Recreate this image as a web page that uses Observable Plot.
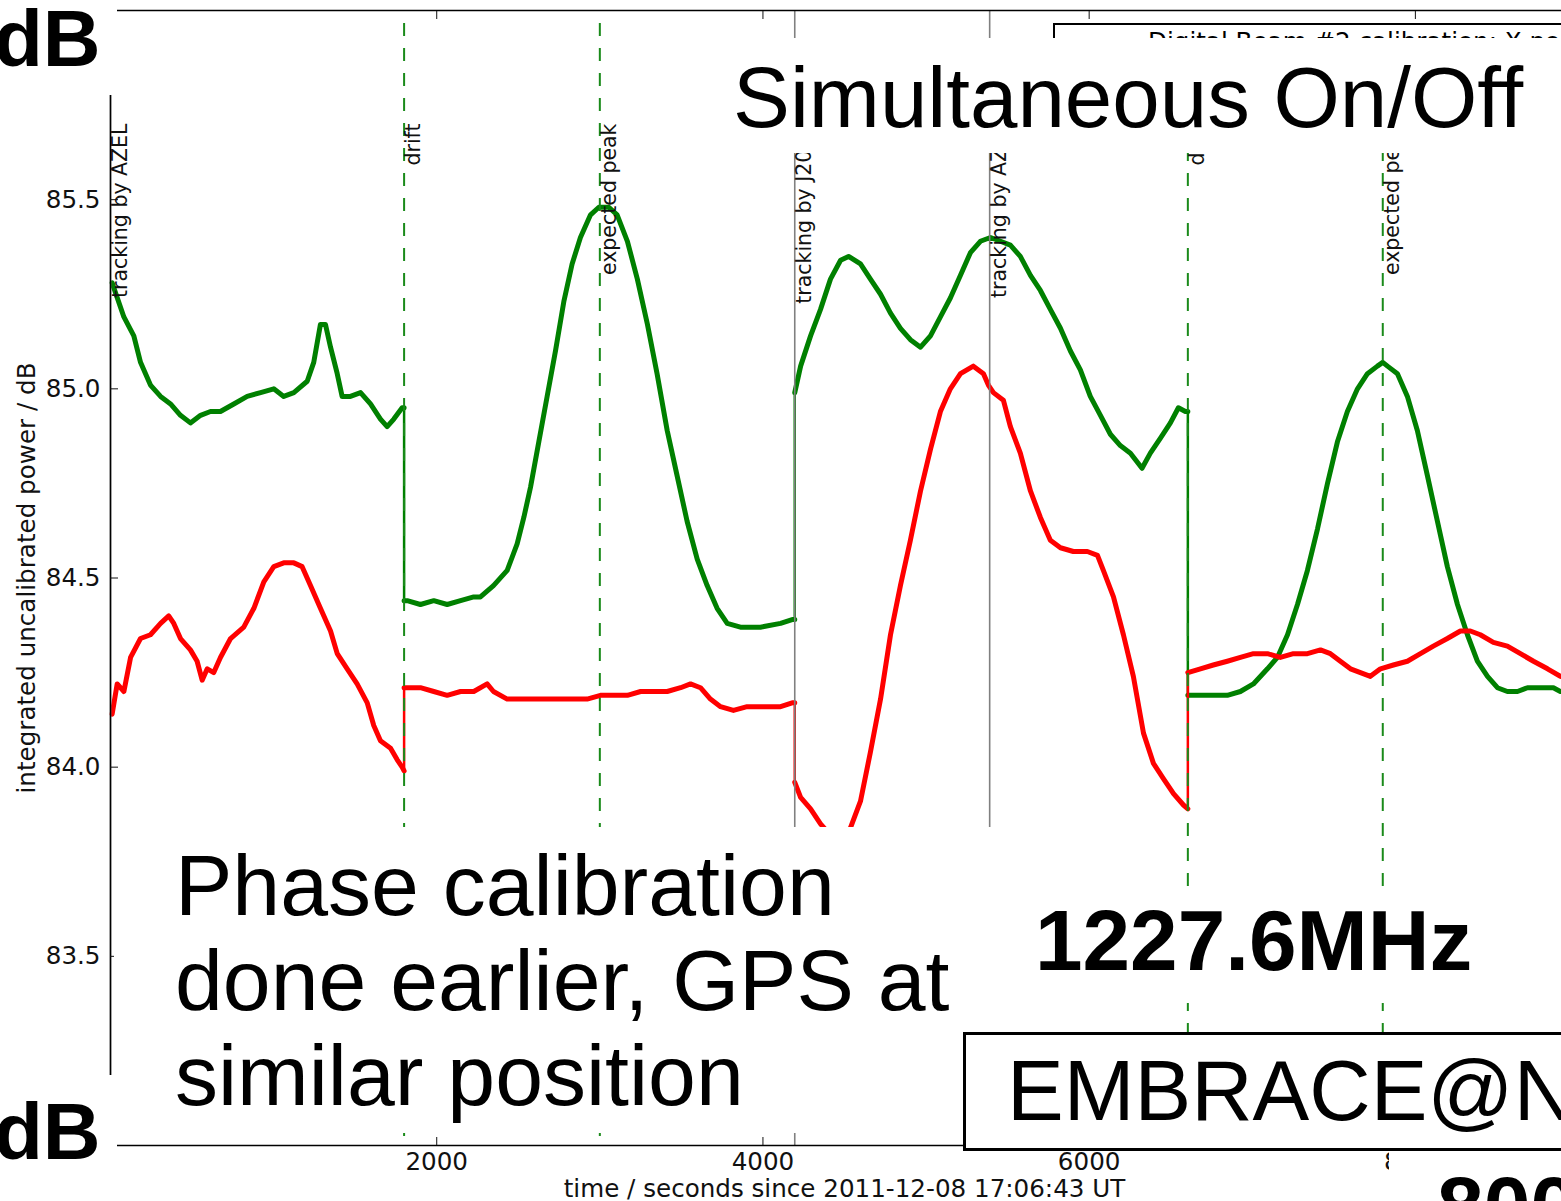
<!DOCTYPE html>
<html><head><meta charset="utf-8">
<script src="https://cdn.jsdelivr.net/npm/d3@7"></script>
<script src="https://cdn.jsdelivr.net/npm/@observablehq/plot@0.6"></script>
<style>
html,body{margin:0;padding:0;background:#fff;}
#stage{position:relative;width:1561px;height:1201px;overflow:hidden;background:#fff;}
#chart{position:absolute;left:0;top:0;width:1578px;height:1201px;}
#chart svg{max-width:none !important;}
.box{position:absolute;background:#fff;box-sizing:content-box;}
.slide{position:absolute;font-family:'Liberation Sans',Arial,sans-serif;color:#000;white-space:nowrap;line-height:1;}
</style></head><body>
<div id="stage">
<div id="chart"></div>
<div class="box" style="left:1053px;top:23px;width:600px;height:80px;border-top:2px solid #000;border-left:2px solid #000;"></div>
<div class="slide" style="left:1148px;top:30px;font-family:'DejaVu Sans',sans-serif;font-size:24.6px;">Digital Beam #2 calibration: X pol</div>
<div class="box" style="left:700px;top:38px;width:900px;height:115px;"></div>
<div class="slide" style="left:733px;top:55px;font-size:85.3px;">Simultaneous On/Off</div>
<div class="box" style="left:114px;top:827px;width:1066px;height:306px;"></div>
<div class="slide" style="left:175px;top:838px;font-size:86px;line-height:95px;">Phase calibration<br>done earlier, GPS at<br>similar position</div>
<div class="box" style="left:1000px;top:893px;width:600px;height:110px;"></div>
<div class="slide" style="left:1035px;top:898px;font-size:85.5px;font-weight:bold;">1227.6MHz</div>
<div class="box" style="left:963px;top:1032px;width:700px;height:113px;border:3px solid #000;"></div>
<div class="slide" style="left:1007px;top:1048px;font-size:85px;">EMBRACE@Nançay</div>
<div class="box" style="left:1389px;top:1152px;width:300px;height:60px;"></div>
<div class="slide" style="left:1437px;top:1164px;font-size:84px;font-weight:bold;">800</div>
<div class="box" style="left:0;top:0;width:117px;height:95px;"></div>
<div class="slide" style="left:-6px;top:-1px;font-size:80px;font-weight:bold;">dB</div>
<div class="box" style="left:0;top:1075px;width:117px;height:126px;"></div>
<div class="slide" style="left:-6px;top:1092px;font-size:80px;font-weight:bold;">dB</div>
</div>
<script>
// ---- data (time in s, power in dB) ----
const green1 = [[10,85.28],[82,85.19],[143,85.14],[184,85.07],[245,85.01],[307,84.98],[368,84.96],[429,84.93],[490,84.91],[552,84.93],[613,84.94],[674,84.94],[756,84.96],[838,84.98],[920,84.99],[1001,85.00],[1062,84.98],[1124,84.99],[1206,85.02],[1246,85.07],[1287,85.17],[1318,85.17],[1349,85.11],[1390,85.04],[1420,84.98],[1471,84.98],[1533,84.99],[1594,84.96],[1655,84.92],[1696,84.90],[1737,84.92],[1788,84.95],[1800,84.95]];
const green2 = [[1800,84.44],[1819,84.44],[1900,84.43],[1982,84.44],[2064,84.43],[2146,84.44],[2227,84.45],[2268,84.45],[2348,84.48],[2432,84.52],[2493,84.59],[2534,84.66],[2575,84.74],[2626,84.86],[2677,84.98],[2728,85.10],[2779,85.23],[2830,85.33],[2881,85.40],[2943,85.46],[2994,85.48],[3055,85.48],[3106,85.46],[3169,85.39],[3230,85.29],[3292,85.17],[3351,85.04],[3413,84.89],[3474,84.77],[3535,84.65],[3597,84.55],[3658,84.48],[3719,84.42],[3781,84.38],[3862,84.37],[3985,84.37],[4108,84.38],[4179,84.39],[4195,84.39]];
const green3 = [[4195,84.99],[4231,85.06],[4292,85.14],[4353,85.21],[4414,85.29],[4476,85.34],[4525,85.35],[4598,85.33],[4659,85.29],[4721,85.25],[4782,85.20],[4843,85.16],[4904,85.13],[4966,85.11],[5027,85.14],[5088,85.19],[5149,85.24],[5211,85.30],[5272,85.36],[5333,85.39],[5395,85.40],[5456,85.39],[5517,85.38],[5578,85.35],[5640,85.30],[5701,85.26],[5762,85.21],[5824,85.16],[5885,85.10],[5946,85.05],[6007,84.98],[6069,84.93],[6130,84.88],[6191,84.85],[6253,84.83],[6324,84.79],[6375,84.83],[6437,84.87],[6498,84.91],[6547,84.95],[6590,84.94],[6605,84.94]];
const green4 = [[6605,84.19],[6682,84.19],[6761,84.19],[6847,84.19],[6927,84.20],[7007,84.22],[7093,84.26],[7154,84.29],[7216,84.35],[7277,84.43],[7338,84.52],[7400,84.63],[7461,84.75],[7522,84.86],[7583,84.94],[7645,85.00],[7706,85.04],[7767,85.06],[7800,85.07],[7829,85.06],[7890,85.04],[7951,84.98],[8012,84.89],[8074,84.77],[8135,84.65],[8196,84.53],[8258,84.43],[8319,84.35],[8380,84.28],[8442,84.24],[8503,84.21],[8564,84.20],[8626,84.20],[8687,84.21],[8767,84.21],[8846,84.21],[8889,84.20]];
const red1 = [[10,84.14],[41,84.22],[82,84.20],[123,84.29],[184,84.34],[245,84.35],[307,84.38],[357,84.40],[388,84.38],[429,84.34],[490,84.31],[531,84.28],[562,84.23],[593,84.26],[633,84.25],[674,84.29],[736,84.34],[817,84.37],[879,84.42],[940,84.49],[1001,84.53],[1062,84.54],[1124,84.54],[1175,84.53],[1226,84.48],[1287,84.42],[1349,84.36],[1390,84.30],[1451,84.26],[1512,84.22],[1574,84.17],[1614,84.11],[1655,84.07],[1717,84.05],[1757,84.02],[1788,84.00],[1800,83.99]];
const red2 = [[1800,84.21],[1819,84.21],[1900,84.21],[1982,84.20],[2064,84.19],[2146,84.20],[2227,84.20],[2309,84.22],[2348,84.20],[2432,84.18],[2514,84.18],[2595,84.18],[2677,84.18],[2759,84.18],[2839,84.18],[2922,84.18],[3004,84.19],[3085,84.19],[3169,84.19],[3250,84.20],[3331,84.20],[3413,84.20],[3495,84.21],[3556,84.22],[3617,84.21],[3678,84.18],[3740,84.16],[3819,84.15],[3903,84.16],[4003,84.16],[4108,84.16],[4179,84.17],[4195,84.17]];
const red3 = [[4195,83.96],[4231,83.92],[4292,83.89],[4353,83.85],[4414,83.82],[4476,83.81],[4537,83.84],[4598,83.91],[4659,84.04],[4721,84.18],[4782,84.35],[4843,84.48],[4904,84.60],[4966,84.73],[5027,84.84],[5088,84.94],[5149,85.00],[5211,85.04],[5290,85.06],[5352,85.04],[5382,85.01],[5413,84.99],[5474,84.97],[5517,84.90],[5578,84.83],[5640,84.73],[5701,84.66],[5762,84.60],[5824,84.58],[5903,84.57],[5989,84.57],[6051,84.56],[6087,84.52],[6149,84.45],[6210,84.35],[6271,84.24],[6333,84.09],[6394,84.01],[6455,83.97],[6517,83.93],[6578,83.90],[6605,83.89]];
const red4 = [[6605,84.25],[6682,84.26],[6761,84.27],[6847,84.28],[6927,84.29],[7007,84.30],[7093,84.30],[7172,84.29],[7252,84.30],[7338,84.30],[7418,84.31],[7479,84.30],[7540,84.28],[7602,84.26],[7663,84.25],[7724,84.24],[7786,84.26],[7865,84.27],[7951,84.28],[8031,84.30],[8110,84.32],[8196,84.34],[8276,84.36],[8337,84.36],[8398,84.35],[8478,84.33],[8564,84.32],[8644,84.30],[8724,84.28],[8810,84.26],[8889,84.24]];

const eventTimes  = [0, 1800, 3000, 4195, 5390, 6605, 7800];
const eventLabels = ["tracking by AZEL", "drift", "expected peak", "tracking by J2000", "tracking by AZEL", "drift", "expected peak"];
const eventKinds  = ["track", "drift", "peak", "track", "track", "drift", "peak"];

const xDomain = [0, 9000];
const yDomain = [83, 86];
const xTicks = [2000, 4000, 6000, 8000];
const yTicks = [83.5, 84.0, 84.5, 85.0, 85.5];
const xLabel = "time / seconds since 2011-12-08 17:06:43 UT";
const yLabel = "integrated uncalibrated power / dB";

// ---- build tables ----
function rowsOf(segs) { return segs.flatMap((s, i) => s.map(([t, v]) => ({t, v, seg: i}))); }
function jumpsOf(segs) { return segs.slice(1).map((s, i) => ({t: s[0][0], from: segs[i][segs[i].length - 1][1], to: s[0][1]})); }
const greenSegs = [green1, green2, green3, green4];
const redSegs = [red1, red2, red3, red4];
const events = eventTimes.map((t, i) => ({t, label: eventLabels[i], kind: eventKinds[i]}));

const GREEN = "#008000", RED = "#ff0000";

const chart = Plot.plot({
  width: 1578, height: 1201,
  marginLeft: 110, marginRight: 0, marginTop: 10, marginBottom: 56,
  x: {domain: xDomain},
  y: {domain: yDomain},
  style: {fontFamily: "'DejaVu Sans', sans-serif", fontSize: "24.6px", color: "#111", background: "transparent", maxWidth: "none"},
  marks: [
    Plot.line(rowsOf(greenSegs), {x: "t", y: "v", z: "seg", stroke: GREEN, strokeWidth: 5, strokeLinejoin: "round"}),
    Plot.link(jumpsOf(greenSegs), {x1: "t", x2: "t", y1: "from", y2: "to", stroke: GREEN, strokeWidth: 2.5}),
    Plot.line(rowsOf(redSegs), {x: "t", y: "v", z: "seg", stroke: RED, strokeWidth: 5, strokeLinejoin: "round"}),
    Plot.link(jumpsOf(redSegs), {x1: "t", x2: "t", y1: "from", y2: "to", stroke: RED, strokeWidth: 2.5}),
    Plot.ruleX(events.filter(d => d.kind === "track"), {x: "t", stroke: "#808080", strokeWidth: 1.6}),
    Plot.ruleX(events.filter(d => d.kind !== "track"), {x: "t", stroke: "#1a8a1a", strokeWidth: 2, strokeDasharray: "13,12", strokeDashoffset: 12}),
    Plot.text(events, {x: "t", text: "label", frameAnchor: "top", rotate: -90, textAnchor: "end", lineAnchor: "middle", dx: 9.5, dy: 113, fontSize: 20.5, fill: "#111"}),
    Plot.ruleY([yDomain[0]], {stroke: "#000", strokeWidth: 1.5}),
    Plot.ruleY([yDomain[1]], {stroke: "#000", strokeWidth: 1.5}),
    Plot.ruleX([xDomain[0]], {stroke: "#000", strokeWidth: 1.5}),
    Plot.axisY({ticks: yTicks, tickSize: -8, tickPadding: 18, tickFormat: d3.format(".1f"), label: null}),
    Plot.axisX({ticks: xTicks, anchor: "bottom", tickSize: -8, tickPadding: 15, tickFormat: d3.format("d"), label: null}),
    Plot.axisX({ticks: xTicks, anchor: "top", tickSize: -8, tickFormat: () => "", label: null}),
    Plot.text([xLabel], {frameAnchor: "bottom", dy: 44, text: d => d, textAnchor: "middle", lineAnchor: "middle"}),
    Plot.text([yLabel], {frameAnchor: "left", dx: -83, rotate: -90, text: d => d, textAnchor: "middle", lineAnchor: "middle"})
  ]
});
document.getElementById("chart").appendChild(chart);
</script>
</body></html>
